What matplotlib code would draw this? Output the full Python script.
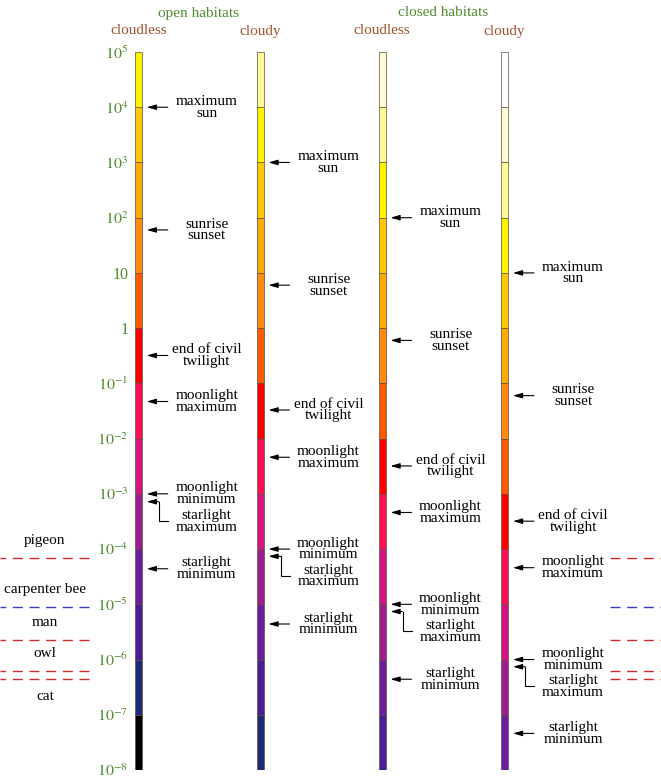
import numpy as np
import matplotlib
matplotlib.use('Agg')
import matplotlib.pyplot as plt
from matplotlib.ticker import NullLocator

plt.rcParams['font.family'] = ['Liberation Serif', 'DejaVu Serif']
plt.rcParams['mathtext.fontset'] = 'stix'

# --- data -----------------------------------------------------------------
# illuminance decades (lux): one coloured band per decade, top to bottom
band_tops = [1e5, 1e4, 1e3, 1e2, 1e1, 1e0, 1e-1, 1e-2, 1e-3, 1e-4, 1e-5, 1e-6, 1e-7]
band_bottoms = [1e4, 1e3, 1e2, 1e1, 1e0, 1e-1, 1e-2, 1e-3, 1e-4, 1e-5, 1e-6, 1e-7, 1e-8]

tick_values = [1e5, 1e4, 1e3, 1e2, 1e1, 1e0, 1e-1, 1e-2, 1e-3, 1e-4, 1e-5, 1e-6, 1e-7, 1e-8]
tick_labels = ['$10^{5}$', '$10^{4}$', '$10^{3}$', '$10^{2}$', '10', '1',
               '$10^{-1}$', '$10^{-2}$', '$10^{-3}$', '$10^{-4}$', '$10^{-5}$',
               '$10^{-6}$', '$10^{-7}$', '$10^{-8}$']

# palette from brightest to darkest; each column starts further along it
band_colours = ['#ffffff', '#fffcd2', '#fffa96', '#fff400', '#ffc800', '#ffa800',
                '#ff8a10', '#ff5a00', '#fa0000', '#ff1055', '#d41482', '#a01c8c',
                '#6e1ca0', '#4a1c98', '#1e2a78', '#000000']
palette_start = [3, 2, 1, 0]

habitats = ['open habitats', 'closed habitats']
skies = ['cloudless', 'cloudy', 'cloudless', 'cloudy']

event_names = ['maximum\nsun', 'sunrise\nsunset', 'end of civil\ntwilight',
               'moonlight\nmaximum', 'moonlight\nminimum', 'starlight\nmaximum',
               'starlight\nminimum']
open_cloudless = [1e4, 60, 0.32, 0.047, 1.0e-3, 7.2e-4, 4.4e-5]
open_cloudy = [1e3, 6, 0.033, 4.6e-3, 1.0e-4, 7.4e-5, 4.4e-6]
closed_cloudless = [1e2, 0.6, 3.2e-3, 4.6e-4, 1.0e-5, 7.4e-6, 4.4e-7]
closed_cloudy = [1e1, 0.06, 3.2e-4, 4.6e-5, 1.0e-6, 7.4e-7, 4.6e-8]
columns = [open_cloudless, open_cloudy, closed_cloudless, closed_cloudy]

animals = ['pigeon', 'carpenter bee', 'man', 'owl', 'cat']
animal_thresholds = [6.8e-5, 9.0e-6, 2.3e-6, 6.3e-7, 4.5e-7]
animal_colours = ['#d42a2a', '#3a3ac8', '#d42a2a', '#d42a2a', '#d42a2a']
animal_label_side = [1, 1, 1, 1, -1]

# --- layout ---------------------------------------------------------------
W, H = 661, 779
bar_x = [138.3, 260.0, 382.0, 504.5]
bar_w = 7.0
green = '#4f8a2e'
brown = '#a0522d'
fs = 11

fig = plt.figure(figsize=(W / 100, H / 100), dpi=100)
ax = fig.add_axes([0, 9 / H, 1, 718 / H])
ax.set_xlim(0, W)
ax.set_yscale('log')
ax.set_ylim(1e-8, 1e5)
ax.set_xticks([])
for s in ax.spines.values():
    s.set_visible(False)
ax.spines['left'].set_position(('data', 131))
ax.set_yticks(tick_values)
ax.set_yticklabels(tick_labels)
ax.yaxis.set_minor_locator(NullLocator())
ax.tick_params(axis='y', which='both', length=0, pad=2, labelcolor=green,
               labelsize=11.5)
ax.patch.set_alpha(0)

heights = np.array(band_tops) - np.array(band_bottoms)

for xc, start, values in zip(bar_x, palette_start, columns):
    cols = band_colours[start:start + len(band_tops)]
    ax.bar([xc] * len(band_tops), heights, width=bar_w, bottom=band_bottoms,
           color=cols, edgecolor='#5a5040', linewidth=0.5)

    right = xc + bar_w / 2
    tip, tail, txt = right + 5, right + 26, right + 65
    arrow = dict(arrowstyle='-|>,head_length=0.55,head_width=0.16', lw=0.8,
                 color='black', shrinkA=0, shrinkB=0, mutation_scale=10)
    for name, v in zip(event_names, values):
        if name == 'starlight\nmaximum':
            # elbow connector, text pushed below the moonlight minimum label
            ty = v * 10 ** -0.355
            knee = right + 17
            ax.plot([tail, knee, knee], [ty, ty, v], color='black', lw=0.8)
            ax.annotate('', xy=(tip, v), xytext=(knee, v), arrowprops=arrow)
            ax.text(txt, ty, name, ha='center', va='center', fontsize=fs,
                    linespacing=0.88)
        else:
            ax.annotate('', xy=(tip, v), xytext=(tail, v), arrowprops=arrow)
            ax.text(txt, v, name, ha='center', va='center', fontsize=fs,
                    linespacing=0.88)

# behavioural thresholds of animals, dashed at both margins
for name, v, c, side in zip(animals, animal_thresholds, animal_colours,
                            animal_label_side):
    ax.plot([89, 0], [v, v], color=c, lw=1.0, dashes=(7.2, 4.8))
    ax.plot([610, W], [v, v], color=c, lw=1.0, dashes=(7.2, 4.8))
    ax.annotate(name, xy=(45, v), xytext=(0, 12.5 * side),
                textcoords='offset points', ha='center', va='center',
                fontsize=fs)

# headers
fig.text(199 / W, 1 - 13 / H, habitats[0], color=green, fontsize=fs,
         ha='center', va='center')
fig.text(443 / W, 1 - 13 / H, habitats[1], color=green, fontsize=fs,
         ha='center', va='center')
for xc, sky in zip(bar_x, skies):
    fig.text(xc / W, 1 - 31 / H, sky, color=brown, fontsize=fs,
             ha='center', va='center')

fig.savefig('out.png', dpi=100, facecolor='white')
